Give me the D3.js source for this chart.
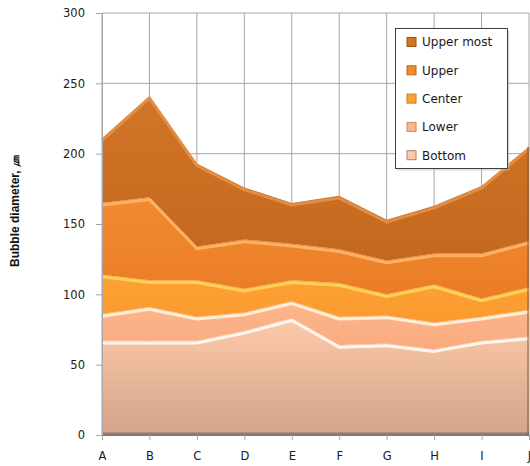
<!DOCTYPE html>
<html>
<head>
<meta charset="utf-8">
<script src="https://cdn.jsdelivr.net/npm/d3@7"></script>
<style>
  body { margin: 0; background: #fff; }
  svg { display: block; }
</style>
</head>
<body>
<svg id="chart" width="530" height="466"></svg>
<script>
'use strict'

const categories = ['A', 'B', 'C', 'D', 'E', 'F', 'G', 'H', 'I', 'J']
const seriesNames = ['Bottom', 'Lower', 'Center', 'Upper', 'Upper most']
const bottom = [67, 67, 67, 74, 83, 64, 65, 61, 67, 70]
const lower = [19, 24, 17, 13, 12, 20, 20, 19, 17, 19]
const center = [28, 19, 26, 17, 15, 24, 15, 27, 13, 16]
const upper = [51, 59, 24, 35, 26, 24, 24, 22, 32, 33]
const upperMost = [46, 72, 59, 37, 29, 38, 29, 34, 48, 67]
const yTicks = [0, 50, 100, 150, 200, 250, 300]
const yLabel = 'Bubble diameter, ㎛'

// fill gradient (top, bottom) and edge highlight per series
const styles = {
  'Bottom': { top: '#fdcaa8', bot: '#d3a38b', edge: '#fffaf2' },
  'Lower': { top: '#fdb68b', bot: '#f9ab7f', edge: '#fff2da' },
  'Center': { top: '#fea236', bot: '#fa9a2e', edge: '#ffd458' },
  'Upper': { top: '#f28a30', bot: '#e97d27', edge: '#fcb466' },
  'Upper most': { top: '#d27527', bot: '#c4681f', edge: '#e28f48' }
}

const margin = { top: 13, right: 1, bottom: 31, left: 102 }
const width = 530 - margin.left - margin.right
const height = 466 - margin.top - margin.bottom

const svg = d3.select('#chart')
const defs = svg.append('defs')

const data = categories.map((c, i) => ({
  cat: c,
  'Bottom': bottom[i],
  'Lower': lower[i],
  'Center': center[i],
  'Upper': upper[i],
  'Upper most': upperMost[i]
}))

const stacked = d3.stack().keys(seriesNames)(data)

const x = d3.scalePoint().domain(categories).range([0, width])
const y = d3.scaleLinear().domain([0, 300]).range([height, 0])

seriesNames.forEach((k, i) => {
  const grad = defs.append('linearGradient')
    .attr('id', 'g' + i)
    .attr('x1', 0).attr('y1', 0).attr('x2', 0).attr('y2', 1)
  grad.append('stop').attr('offset', '0%').attr('stop-color', styles[k].top)
  grad.append('stop').attr('offset', '100%').attr('stop-color', styles[k].bot)
})

const g = svg.append('g')
  .attr('transform', 'translate(' + margin.left + ',' + margin.top + ')')

// gridlines
g.append('g')
  .selectAll('line')
  .data(yTicks.filter(t => t > 0))
  .enter().append('line')
  .attr('x1', 0).attr('x2', width)
  .attr('y1', d => y(d)).attr('y2', d => y(d))
  .attr('stroke', '#a6a6a6').attr('stroke-width', 1)

g.append('g')
  .selectAll('line')
  .data(categories)
  .enter().append('line')
  .attr('x1', d => x(d)).attr('x2', d => x(d))
  .attr('y1', 0).attr('y2', height)
  .attr('stroke', '#a6a6a6').attr('stroke-width', 1)

// areas
const area = d3.area()
  .x(d => x(d.data.cat))
  .y0(d => y(d[0]))
  .y1(d => y(d[1]))

g.selectAll('.layer')
  .data(stacked)
  .enter().append('path')
  .attr('class', 'layer')
  .attr('d', area)
  .attr('fill', (d, i) => 'url(#g' + i + ')')

// bevel highlight along each top edge
const edge = d3.line()
  .x(d => x(d.data.cat))
  .y(d => y(d[1]) + 2.2)

g.selectAll('.edge')
  .data(stacked)
  .enter().append('path')
  .attr('class', 'edge')
  .attr('d', edge)
  .attr('fill', 'none')
  .attr('stroke', d => styles[d.key].edge)
  .attr('stroke-width', 3)
  .attr('stroke-linejoin', 'round')
  .attr('opacity', 0.95)

// shaded bottom and right edges of the stack
g.append('line')
  .attr('x1', 0).attr('x2', width)
  .attr('y1', height - 1).attr('y2', height - 1)
  .attr('stroke', '#7e7470').attr('stroke-width', 3).attr('opacity', 0.8)
g.append('line')
  .attr('x1', width - 1).attr('x2', width - 1)
  .attr('y1', y(d3.sum(stacked, s => s[s.length - 1][1] - s[s.length - 1][0]))).attr('y2', height)
  .attr('stroke', '#8a5a30').attr('stroke-width', 2).attr('opacity', 0.5)

// axes
const yAxis = g.append('g')
  .call(d3.axisLeft(y).tickValues(yTicks).tickSize(6).tickPadding(11).tickSizeOuter(0))
yAxis.select('.domain').attr('stroke', '#a6a6a6')
yAxis.selectAll('.tick line').attr('stroke', '#a6a6a6')
yAxis.selectAll('text')
  .attr('font-family', 'DejaVu Sans, sans-serif')
  .attr('font-size', 11.5)
  .attr('fill', '#1a1a1a')

const xAxis = g.append('g')
  .attr('transform', 'translate(0,' + height + ')')
  .call(d3.axisBottom(x).tickSize(5).tickPadding(12).tickSizeOuter(0))
xAxis.select('.domain').attr('stroke', '#777')
xAxis.selectAll('.tick line').attr('stroke', '#a6a6a6')
xAxis.selectAll('text')
  .attr('font-family', 'DejaVu Sans, sans-serif')
  .attr('font-size', 11.5)
  .attr('fill', '#1a1a1a')

// y axis title
svg.append('text')
  .attr('transform', 'translate(19,211) rotate(-90)')
  .attr('text-anchor', 'middle')
  .attr('font-family', 'Liberation Sans, Arial, sans-serif')
  .attr('font-weight', 'bold')
  .attr('font-size', 12)
  .attr('fill', '#111')
  .text(yLabel)

// legend
const legend = svg.append('g').attr('transform', 'translate(395.5,28.5)')
legend.append('rect')
  .attr('x', 2).attr('y', 2).attr('width', 112).attr('height', 140)
  .attr('fill', '#bbb').attr('opacity', 0.5)
legend.append('rect')
  .attr('width', 112).attr('height', 140)
  .attr('fill', '#fff').attr('stroke', '#404040').attr('stroke-width', 1)

const legendOrder = seriesNames.slice().reverse()
const item = legend.selectAll('.item')
  .data(legendOrder)
  .enter().append('g')
  .attr('class', 'item')
  .attr('transform', (d, i) => 'translate(0,' + (13.5 + i * 28.3) + ')')

item.append('rect')
  .attr('x', 11.5).attr('y', -4.5).attr('width', 9).attr('height', 9)
  .attr('fill', d => styles[d].top)
  .attr('stroke', d => d3.color(styles[d].bot).darker(0.6))
  .attr('stroke-width', 1)
item.append('text')
  .attr('x', 26.5).attr('y', 0)
  .attr('dy', '0.36em')
  .attr('font-family', 'DejaVu Sans, sans-serif')
  .attr('font-size', 12)
  .attr('fill', '#1a1a1a')
  .text(d => d)
</script>
</body>
</html>
